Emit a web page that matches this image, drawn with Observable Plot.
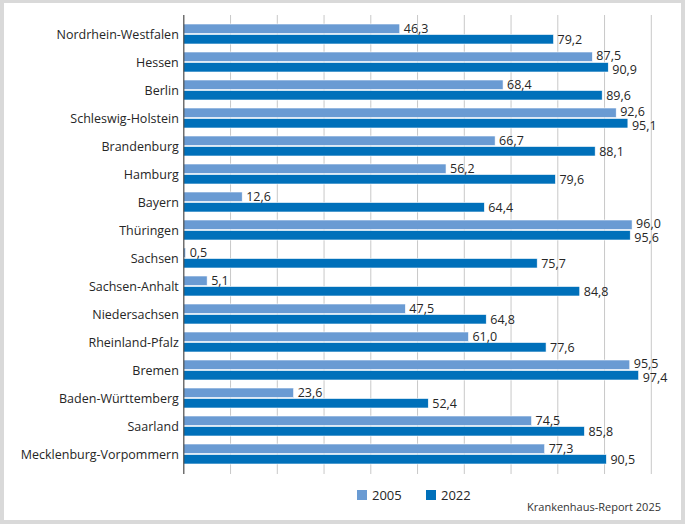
<!DOCTYPE html>
<html><head><meta charset="utf-8">
<script src="https://cdn.jsdelivr.net/npm/d3@7"></script>
<script src="https://cdn.jsdelivr.net/npm/@observablehq/plot@0.6"></script>
<style>
html,body{margin:0;padding:0;}
body{width:685px;height:524px;background:#d9d9d9;position:relative;overflow:hidden;font-family:"Open Sans",sans-serif;color:#262626;}
#panel{position:absolute;left:4px;top:3px;width:677px;height:517px;background:#fff;}
#chart{position:absolute;left:0;top:0;}
.sw{position:absolute;width:10px;height:10px;}
.lt{position:absolute;font-size:13px;line-height:14px;}
#cap{position:absolute;right:24px;top:501px;font-size:11px;line-height:12px;color:#333;}
</style></head>
<body>
<div id="panel"></div>
<div id="chart"></div>
<div class="sw" id="sw1" style="left:357px;top:490px;"></div>
<div class="lt" id="lt1" style="left:372px;top:488px;"></div>
<div class="sw" id="sw2" style="left:426px;top:490px;"></div>
<div class="lt" id="lt2" style="left:441px;top:488px;"></div>
<div id="cap">Krankenhaus-Report 2025</div>
<script>
const states = ["Nordrhein-Westfalen","Hessen","Berlin","Schleswig-Holstein","Brandenburg","Hamburg","Bayern","Thüringen","Sachsen","Sachsen-Anhalt","Niedersachsen","Rheinland-Pfalz","Bremen","Baden-Württemberg","Saarland","Mecklenburg-Vorpommern"];
const v2005 = [46.3,87.5,68.4,92.6,66.7,56.2,12.6,96.0,0.5,5.1,47.5,61.0,95.5,23.6,74.5,77.3];
const v2022 = [79.2,90.9,89.6,95.1,88.1,79.6,64.4,95.6,75.7,84.8,64.8,77.6,97.4,52.4,85.8,90.5];
const years = ["2005","2022"];
const colors = ["#6a9bd3","#0070ba"];
const gridTicks = d3.range(10,101,10);

const rows05 = states.map((s,i)=>({state:s, year:years[0], value:v2005[i], close: Math.abs(v2005[i]-v2022[i]) < 4}));
const rows22 = states.map((s,i)=>({state:s, year:years[1], value:v2022[i], close: Math.abs(v2005[i]-v2022[i]) < 4}));

const W = 685, H = 480, mt = 15, mb = 6, ml = 183.3, mr = 34.2;
const pIn = 0.268, pOut = 0.134;
const bw = d3.scaleBand().domain(states).range([mt, H-mb]).paddingInner(pIn).paddingOuter(pOut).bandwidth();
const half = bw/2;
const fmt = d => d.value.toFixed(1).replace(".", ",");
const tOpts = {x: "value", y: "state", text: fmt, dx: 3.5, textAnchor: "start", fill: "#262626", fontSize: 12.5};

const plot = Plot.plot({
  width: W, height: H,
  marginTop: mt, marginBottom: mb, marginLeft: ml, marginRight: mr,
  style: {background: "none", fontFamily: "'Open Sans', sans-serif", fontSize: "12.5px", color: "#262626"},
  x: {domain: [0,100], axis: null},
  y: {domain: states, paddingInner: pIn, paddingOuter: pOut, axis: null},
  marks: [
    Plot.ruleX(gridTicks, {x: d=>d, stroke: "#c8c8c8", strokeWidth: 1}),
    Plot.barX(rows05, {x: "value", y: "state", fill: colors[0], insetBottom: half, stroke: "#fff", strokeWidth: 0.6}),
    Plot.barX(rows22, {x: "value", y: "state", fill: colors[1], insetTop: half, stroke: "#fff", strokeWidth: 0.6}),
    Plot.ruleX([0], {stroke: "#4d4d4d", strokeWidth: 1.2}),
    Plot.axisY({domain: states, tickSize: 0, tickPadding: 5, label: null, fontSize: 12.5, fill: "#262626"}),
    Plot.text(rows05.filter(d => !d.close), {...tOpts, dy: -half/2}),
    Plot.text(rows05.filter(d => d.close), {...tOpts, dy: -half/2 - 1.5}),
    Plot.text(rows22.filter(d => !d.close), {...tOpts, dy: half/2}),
    Plot.text(rows22.filter(d => d.close), {...tOpts, dy: half/2 + 2})
  ]
});
document.getElementById("chart").appendChild(plot);
document.getElementById("sw1").style.background = colors[0];
document.getElementById("sw2").style.background = colors[1];
document.getElementById("lt1").textContent = years[0];
document.getElementById("lt2").textContent = years[1];
</script>
</body></html>
